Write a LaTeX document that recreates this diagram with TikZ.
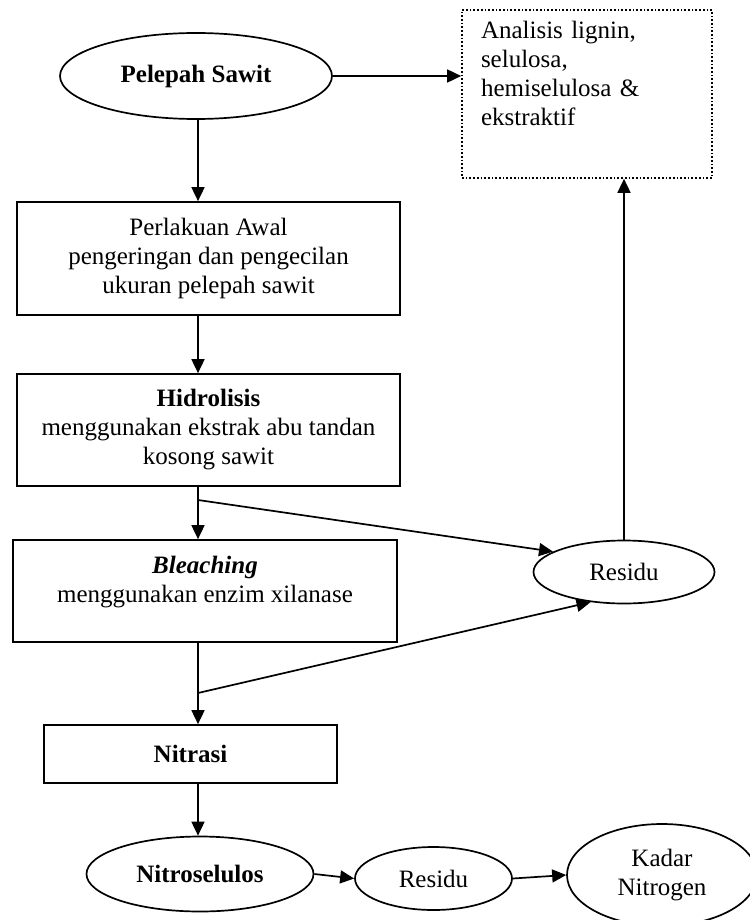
\documentclass[tikz,border=0pt]{standalone}
\usepackage{fontspec}
\setmainfont{Liberation Serif}
\usetikzlibrary{arrows.meta, shapes.geometric}

\begin{document}
\begin{tikzpicture}[x=0.5pt, y=-0.5pt, line width=0.85pt,
  every node/.style={font=\fontsize{12.5}{14.5}\selectfont, inner sep=0pt},
  box/.style={draw, rectangle, align=center},
  oval/.style={draw, ellipse, align=center},
  arr/.style={-{Triangle[length=7pt, width=6.5pt]}}]
\useasboundingbox (0,0) rectangle (749,920);
\node[oval, minimum width=136pt, minimum height=43pt] (pelepah) at (196,76) {\textbf{Pelepah Sawit}};
\node[draw, densely dotted, minimum width=125pt, minimum height=84pt, inner xsep=9.5pt, text width=106pt, align=left] (analisis) at (587,94) {Analisis lignin,\\ selulosa,\\ hemiselulosa \&\\ ekstraktif\\[6pt]\mbox{}};
\node[box, minimum width=191.5pt, minimum height=56.5pt] (perlakuan) at (208.5,258.5) {Perlakuan Awal\\ pengeringan dan pengecilan\\ ukuran pelepah sawit};
\node[box, minimum width=191.5pt, minimum height=56pt] (hidrolisis) at (208.5,430) {\textbf{Hidrolisis}\\ menggunakan ekstrak abu tandan\\ kosong sawit};
\node[box, minimum width=192pt, minimum height=51pt] (bleaching) at (205,591) {\textbf{\textit{Bleaching}}\\ menggunakan enzim xilanase\\[-3pt]\mbox{}};
\node[oval, minimum width=90.5pt, minimum height=31.5pt] (residu1) at (624,572) {Residu};
\node[box, minimum width=146.5pt, minimum height=29pt] (nitrasi) at (190.5,754) {\textbf{Nitrasi}};
\node[oval, minimum width=113.5pt, minimum height=37.5pt] (nitro) at (200,874) {\textbf{Nitroselulos}};
\node[oval, minimum width=78.5pt, minimum height=31.5pt] (residu2) at (433.5,878.5) {Residu};
\node[oval, minimum width=95pt, minimum height=51pt] (kadar) at (662,875) {Kadar\\ Nitrogen};

\coordinate (spine) at (198,0);
\coordinate (split1) at (198,500);
\coordinate (split2) at (198,693);
\draw[arr] (pelepah.east) -- (pelepah.east -| analisis.west);
\draw[arr] (pelepah.south -| spine) -- (perlakuan.north -| spine);
\draw[arr] (perlakuan.south -| spine) -- (hidrolisis.north -| spine);
\draw[arr] (hidrolisis.south -| spine) -- (bleaching.north -| spine);
\draw[arr] (split1) -- (residu1.164);
\draw[arr] (bleaching.south -| spine) -- (nitrasi.north -| spine);
\draw[arr] (split2) -- (residu1.222);
\draw[arr] (residu1.north) -- (residu1.north |- analisis.south);
\draw[arr] (nitrasi.south -| spine) -- (nitro.north -| spine);
\draw[arr] (nitro.east) -- (residu2.west);
\draw[arr] (residu2.east) -- (kadar.west);
\end{tikzpicture}
\end{document}
